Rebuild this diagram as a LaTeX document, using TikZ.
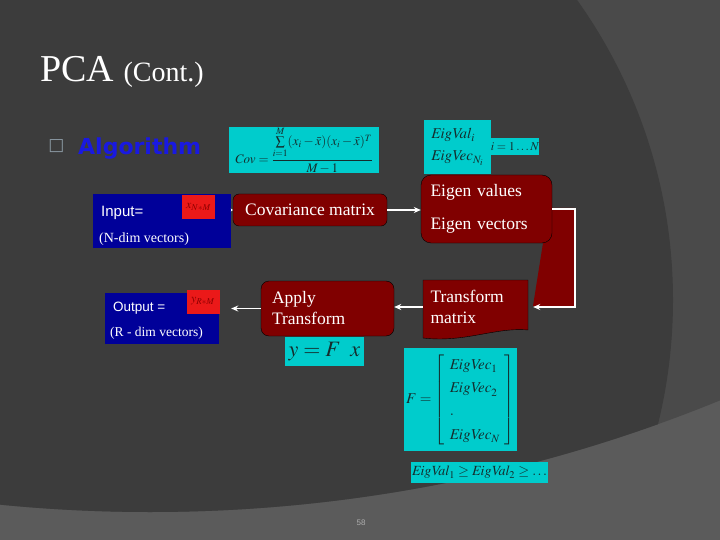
\documentclass[tikz,border=0pt]{standalone}
\usepackage{amsmath}
\usepackage{mathptmx}
\usepackage[no-math]{fontspec}
\setmainfont{Liberation Serif}
\newfontfamily\arialfont{Liberation Sans}
\newfontfamily\algofont{DejaVu Sans}
\usetikzlibrary{arrows.meta,positioning,calc}
\definecolor{bgdark}{RGB}{60,60,60}
\definecolor{bgmid}{RGB}{74,74,74}
\definecolor{bglight}{RGB}{91,91,91}
\definecolor{boxred}{RGB}{128,0,0}
\definecolor{boxblue}{RGB}{0,0,153}
\definecolor{eqcyan}{RGB}{0,204,204}
\definecolor{eqtext}{RGB}{20,45,45}
\definecolor{tagred}{RGB}{235,25,25}
\definecolor{tagtext}{RGB}{140,0,0}
\definecolor{algoblue}{RGB}{25,25,225}
\definecolor{bulletgray}{RGB}{140,155,165}
\definecolor{pagegray}{RGB}{175,175,175}
\newcommand{\eigval}{\mathit{EigVal}}
\newcommand{\eigvec}{\mathit{EigVec}}

\begin{document}
\begin{tikzpicture}[x=1pt, y=-1pt,
    procbox/.style={rectangle, draw=black, fill=boxred, text=white,
                    font=\fontsize{17.5}{21}\selectfont, inner sep=0pt},
    databox/.style={rectangle, fill=boxblue, inner sep=0pt},
    eqbox/.style={rectangle, fill=eqcyan, text=eqtext, inner sep=0pt},
    tagbox/.style={rectangle, fill=tagred, text=tagtext, inner sep=0pt,
                   font=\fontsize{12}{14}\selectfont},
    label/.style={anchor=base west, text=white, inner sep=0pt},
    wire/.style={draw=white, line width=1.5pt, -{Stealth[length=7pt,width=6pt]}},
  ]
  \useasboundingbox (0,0) rectangle (720,540);
  % slide background
  \fill[bglight] (0,0) rectangle (720,540);
  \begin{scope}
    \clip (150,-994) circle[radius=1506pt];
    \fill[bgmid] (0,0) rectangle (720,540);
    \fill[bgdark] (156,300) circle[radius=517pt];
  \end{scope}

  \node[label, font=\fontsize{38}{40}\selectfont] (title) at (40,82)
       {PCA {\fontsize{28}{30}\selectfont (Cont.)}};
  \node[text=bulletgray, font=\algofont\fontsize{17}{17}\selectfont, inner sep=0pt]
       (bul) at (56.5,146) {□};
  \node[anchor=base west, inner sep=0pt, text=algoblue,
        font=\algofont\bfseries\fontsize{22}{24}\selectfont] (algo) at (78,155) {Algorithm};

  % formulas
  \node[eqbox, minimum width=150, minimum height=46, font=\fontsize{13}{15}\selectfont]
       (covf) at (304,150)
       {$\mathit{Cov}=\dfrac{\sum\limits_{i=1}^{M}(x_i-\bar{x})(x_i-\bar{x})^{T}}{M-1}$};
  \node[eqbox, minimum width=67, minimum height=54, align=left,
        font=\fontsize{15}{18}\selectfont] (eigf) at (457.5,147)
       {$\eigval_i$\\[4pt]$\eigvec_{N_i}$};
  \node[eqbox, minimum width=48, minimum height=17, font=\fontsize{12}{14}\selectfont]
       (eigi) at (515,146.5) {$i=1\ldots N$};

  % input / output data
  \node[databox, minimum width=138, minimum height=54] (inp) at (162,221) {};
  \node[label, font=\arialfont\fontsize{15}{18}\selectfont] (inplbl) at (101,216) {Input=};
  \node[tagbox, minimum width=33, minimum height=24] (xin) at (198.5,207) {$x_{N*M}$};
  \node[label, font=\fontsize{14}{16}\selectfont] (inpdim) at (99,243) {(N-dim vectors)};

  \node[databox, minimum width=114, minimum height=51] (out) at (162,318.5) {};
  \node[label, font=\arialfont\fontsize{13.5}{16}\selectfont] (outlbl) at (113,311) {Output =};
  \node[tagbox, minimum width=33, minimum height=24] (yout) at (203,301.5) {$y_{R*M}$};
  \node[label, font=\fontsize{13.5}{16}\selectfont] (outdim) at (110,336) {(R - dim vectors)};

  % processing steps
  \node[procbox, rounded corners=6, minimum width=154, minimum height=32]
       (cov) at (310,210) {Covariance matrix};
  \fill[boxred] (545,208) -- (574,208) -- (574,306) -- (533,306) -- (543,243) -- cycle;
  \node[procbox, rounded corners=10, minimum width=131, minimum height=68,
        text width=112, align=left] (eig) at (486.5,209)
       {Eigen values\\[12pt]Eigen vectors};
  \filldraw[fill=boxred, draw=black] (423,280) -- (528,280) -- (528,330)
       .. controls (495,327) and (465,343) .. (423,338) -- cycle;
  \node[procbox, draw=none, fill=none, minimum width=105, minimum height=54,
        text width=90, align=left] (trm) at (475.5,307) {Transform\\matrix};
  \node[procbox, rounded corners=8, minimum width=133, minimum height=55,
        text width=111, align=left] (app) at (327.5,308.5) {Apply\\Transform};

  \node[eqbox, minimum width=79, minimum height=29, font=\fontsize{22}{24}\selectfont]
       (yfx) at (324.5,351.5) {$y=F\;\;x$};
  \node[eqbox, minimum width=113, minimum height=103, font=\fontsize{15}{18}\selectfont]
       (fmat) at (460.5,399.5)
       {\renewcommand{\arraystretch}{1.3}%
        $F=\left[\begin{array}{l}\eigvec_1\\ \eigvec_2\\ .\\ \eigvec_N\end{array}\right]$};
  \node[eqbox, minimum width=137, minimum height=21, font=\fontsize{14}{16}\selectfont]
       (ineq) at (479.5,472.5) {$\eigval_1\ge\eigval_2\ge\ldots$};

  \node[text=pagegray, font=\arialfont\fontsize{8}{9}\selectfont] (pgnum) at (361,523) {58};

  % connectors
  \draw[wire, -{Stealth[length=2pt,width=3pt]}] (inp.east |- cov.west) -- (cov.west);
  \draw[wire] (cov.east) -- (eig.west |- cov.east);
  \draw[wire] (eig.east) -- ++(23,0) |- ([xshift=5pt]trm.east);
  \draw[wire] (trm.west) -- (app.east |- trm.west);
  \draw[wire] (app.west) -- ([xshift=12pt]out.east |- app.west);
\end{tikzpicture}
\end{document}
